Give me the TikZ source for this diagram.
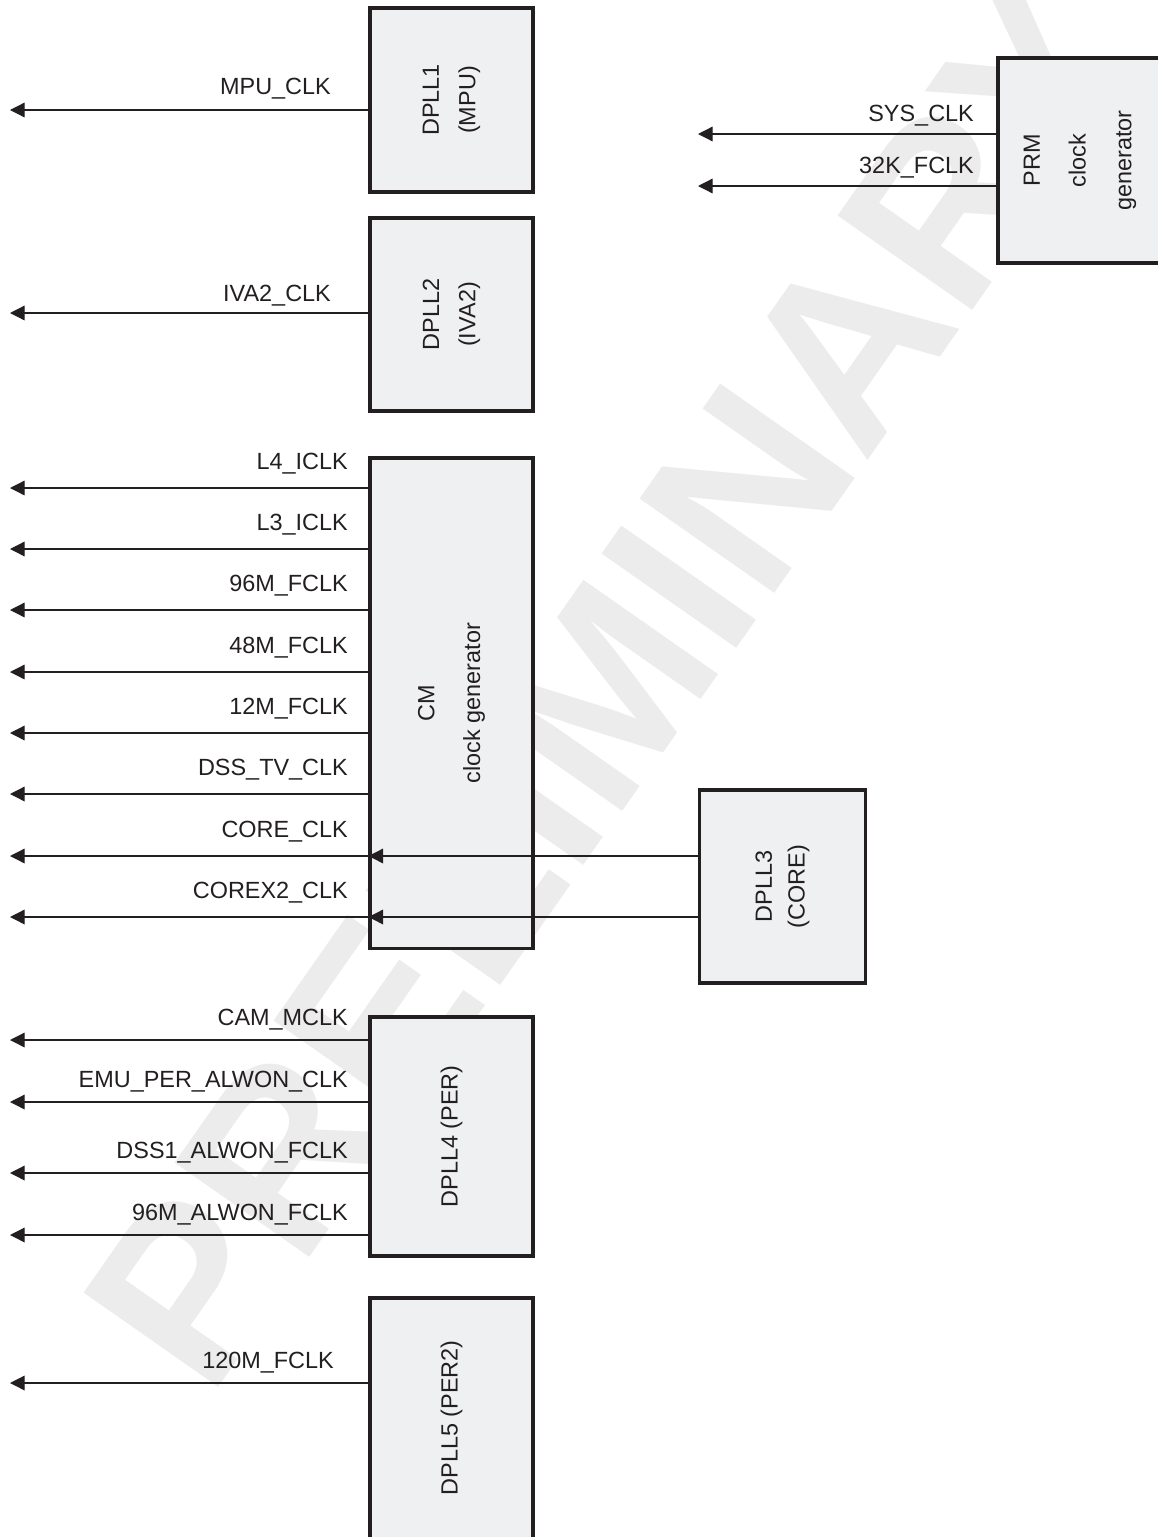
\documentclass[tikz,border=0pt]{standalone}
\usepackage{fontspec}
\setmainfont{Liberation Sans}
\usepackage{xcolor}
\usepackage{tikz}
\usetikzlibrary{arrows.meta,positioning}
\definecolor{ink}{RGB}{35,31,32}
\definecolor{boxfill}{RGB}{239,240,242}
\definecolor{wmark}{RGB}{236,236,236}

\begin{document}
\begin{tikzpicture}[
  x=0.03cm, y=-0.03cm,
  block/.style={draw=ink, line width=2.6pt, fill=boxfill, minimum width=4.89cm},
  blocktext/.style={rotate=90, align=center, text=ink, font=\fontsize{20}{31}\selectfont},
  arrow/.style={-{Triangle[length=12.5pt, width=12.5pt]}, line width=1.1pt, draw=ink},
  clk/.style={anchor=base east, inner sep=0pt, text=ink, font=\fontsize{20}{24}\selectfont},
]
\useasboundingbox (0,0) rectangle (1158,1537);
\node[rotate=55, anchor=base, inner sep=0pt, text=wmark, font=\fontsize{204}{204}\selectfont\bfseries] (prelim) at (679,730) {PRELIMINARY};

\node[block, minimum height=5.52cm] (dpll1) at (451.5,100) {};
\node[block, minimum height=5.79cm] (dpll2) at (451.5,314.5) {};
\node[block, minimum height=14.7cm] (cm) at (451.5,703) {};
\node[block, minimum width=4.98cm, minimum height=5.79cm] (dpll3) at (782.5,886.5) {};
\node[block, minimum height=7.17cm] (dpll4) at (451.5,1136.5) {};
\node[block, minimum height=7.41cm] (dpll5) at (451.5,1421.5) {};
\node[block, minimum width=4.92cm, minimum height=6.15cm] (prm) at (1080,160.5) {};

\node[blocktext] (dpll1txt) at (dpll1) {DPLL1\\(MPU)};
\node[blocktext] (dpll2txt) at (dpll2) {DPLL2\\(IVA2)};
\node[blocktext] (cmtxt) at (cm) {CM\\[8pt]clock generator};
\node[blocktext, font=\fontsize{20}{28}\selectfont] (dpll3txt) at (dpll3) {DPLL3\\(CORE)};
\node[blocktext] (dpll4txt) at (dpll4) {DPLL4 (PER)};
\node[blocktext] (dpll5txt) at (451.5,1418) {DPLL5 (PER2)};
\node[blocktext] (prmtxt) at (prm) {PRM\\[8pt]clock\\[8pt]generator};

\coordinate (mpu) at (10,110);
\draw[arrow] (dpll1.west |- mpu) -- node[clk, pos=0, xshift=-1.11cm, yshift=0.47cm] {MPU\_CLK} (mpu);
\coordinate (iva2) at (10,313);
\draw[arrow] (dpll2.west |- iva2) -- node[clk, pos=0, xshift=-1.11cm, yshift=0.35cm] {IVA2\_CLK} (iva2);

\coordinate (sys) at (698,134);
\draw[arrow] (prm.west |- sys) -- node[clk, pos=0, xshift=-0.66cm, yshift=0.39cm] {SYS\_CLK} (sys);
\coordinate (fclk32k) at (698,186);
\draw[arrow] (prm.west |- fclk32k) -- node[clk, pos=0, xshift=-0.66cm, yshift=0.39cm] {32K\_FCLK} (fclk32k);

\foreach \name/\y/\txt in {l4/488/L4\_ICLK, l3/549/L3\_ICLK, fclk96m/610/96M\_FCLK, fclk48m/672/48M\_FCLK, fclk12m/733/12M\_FCLK, dsstv/794/DSS\_TV\_CLK, core/856/CORE\_CLK, corex2/917/COREX2\_CLK}{
  \coordinate (\name) at (10,\y);
  \draw[arrow] (cm.west |- \name) -- node[clk, pos=0, xshift=-0.6cm, yshift=0.57cm] {\txt} (\name);
}
\draw[arrow] (dpll3.west |- core) -- (cm.west |- core);
\draw[arrow] (dpll3.west |- corex2) -- (cm.west |- corex2);

\foreach \name/\y/\txt in {cam/1040/CAM\_MCLK, emu/1102/EMU\_PER\_ALWON\_CLK, dss1/1173/DSS1\_ALWON\_FCLK, alwon96m/1235/96M\_ALWON\_FCLK}{
  \coordinate (\name) at (10,\y);
  \draw[arrow] (dpll4.west |- \name) -- node[clk, pos=0, xshift=-0.6cm, yshift=0.45cm] {\txt} (\name);
}

\coordinate (fclk120m) at (10,1383);
\draw[arrow] (dpll5.west |- fclk120m) -- node[clk, pos=0, xshift=-1.02cm, yshift=0.45cm] {120M\_FCLK} (fclk120m);
\end{tikzpicture}
\end{document}
